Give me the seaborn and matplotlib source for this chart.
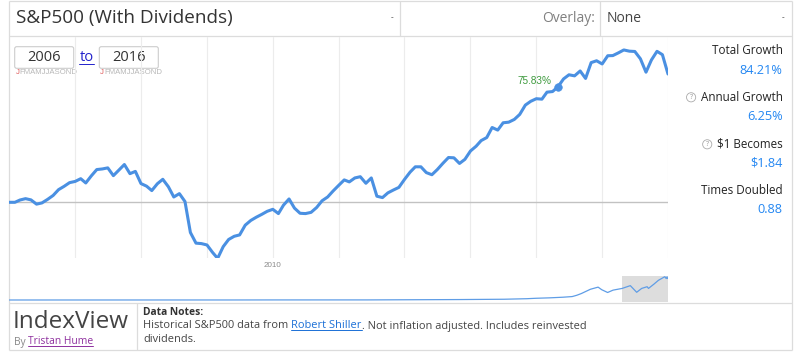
import pandas as pd
import matplotlib.pyplot as plt
import seaborn as sns
from matplotlib.patches import FancyBboxPatch

# ---- data ----
months = pd.date_range('2006-01-01', '2016-01-01', freq='MS')
growth = [
    0.0, 0.0, 1.5, 2.4, 1.6, -1.2, -0.4, 1.9, 4.5, 8.3, 10.5, 12.9,            # 2006
    13.7, 15.5, 12.7, 17.4, 21.5, 21.9, 22.6, 17.5, 21.2, 24.8, 18.8, 20.3,    # 2007
    12.3, 10.6, 7.7, 12.2, 15.1, 10.2, 3.5, 5.7, 0.5, -19.8, -26.8, -27.1,     # 2008
    -28.0, -32.9, -36.8, -29.1, -24.4, -22.3, -21.4, -15.0, -11.9, -9.8, -7.9, -5.9,  # 2009
    -4.6, -7.4, -1.9, 2.2, -3.8, -7.2, -7.4, -6.6, -3.4, 1.0, 3.5, 7.4,        # 2010
    11.1, 14.7, 13.4, 16.0, 16.8, 12.5, 16.0, 4.0, 3.1, 6.2, 8.1, 9.8,         # 2011
    15.0, 19.8, 23.3, 23.3, 19.5, 18.1, 21.5, 25.6, 29.4, 29.2, 25.5, 28.2,    # 2012
    33.7, 36.8, 40.5, 42.5, 49.1, 47.4, 52.2, 52.6, 54.4, 57.7, 63.8, 66.3,    # 2013
    68.0, 67.7, 72.3, 72.7, 75.83, 81.0, 83.7, 83.0, 86.2, 81.3, 91.7, 92.9,   # 2014
    90.8, 96.2, 96.3, 98.1, 100.0, 99.2, 99.0, 94.2, 85.4, 93.4, 99.1, 96.9,   # 2015
    84.21,                                                                     # 2016
]
hover_month = pd.Timestamp('2014-05-01')
hover_value = 75.83
hover_label = '75.83%'

# overview (full history, relative to Jan 2016)
ov_years = [1871, 1920, 1929, 1950, 1960, 1970, 1980, 1985, 1987, 1990, 1993, 1995,
            1996, 1997, 1998, 1999, 2000.7, 2001.5, 2002.8, 2004, 2006, 2007.8,
            2009.2, 2010.3, 2011.5, 2011.8, 2013, 2014, 2015.4, 2015.7, 2015.9, 2016]
ov_values = [0.0, 0.001, 0.003, 0.004, 0.012, 0.02, 0.035, 0.06, 0.08, 0.1, 0.13, 0.16,
             0.22, 0.3, 0.4, 0.5, 0.6, 0.48, 0.35, 0.46, 0.54, 0.67,
             0.36, 0.54, 0.62, 0.54, 0.74, 0.92, 1.087, 1.0, 1.08, 1.0]
sel_start, sel_end = 2006, 2016

title = 'S&P500 (With Dividends)'
overlay = 'None'
year_from, year_to = '2006', '2016'
month_letters = 'JFMAMJJASOND'
stat_labels = ['Total Growth', 'Annual Growth', '\\$1 Becomes', 'Times Doubled']
stat_values = ['84.21%', '6.25%', '\\$1.84', '0.88']
stat_help = [False, True, True, False]

LINE = '#4a90e2'
BLUE = '#2487f2'
BORDER = '#dcdcdc'

sns.set_style('white')
plt.rcParams['font.family'] = ['Open Sans', 'DejaVu Sans']

W, H = 800, 353
fig = plt.figure(figsize=(8, 3.53), dpi=100)

# background axes in pixel coordinates for the page chrome
bg = fig.add_axes([0, 0, 1, 1], zorder=0)
bg.set_xlim(0, W)
bg.set_ylim(H, 0)
bg.axis('off')


def hline(y, x0, x1, c=BORDER):
    bg.plot([x0, x1], [y, y], color=c, lw=0.9, solid_capstyle='butt')


def vline(x, y0, y1, c=BORDER):
    bg.plot([x, x], [y0, y1], color=c, lw=0.9, solid_capstyle='butt')


# frame
hline(1, 9.3, 792)
hline(36, 9.3, 792)
hline(303, 9.3, 792)
hline(350, 9.3, 792)
vline(9.3, 1, 350)
vline(792, 1, 350)
vline(400, 1, 36)
vline(600, 1, 36)
vline(137, 303, 350)

# header
bg.text(16, 18.5, title, fontsize=13.6, color='#333333', va='center')
bg.text(392, 18, '-', fontsize=6, color='#222222', ha='center', va='center')
bg.text(595, 18.5, 'Overlay:', fontsize=10, color='#808080', ha='right', va='center')
bg.text(607, 18.5, overlay, fontsize=10, color='#444444', va='center')
bg.text(783, 18, '-', fontsize=6, color='#222222', ha='center', va='center')

# main chart
ax = fig.add_axes([9.3 / W, 1 - 258.3 / H, (668 - 9.3) / W, (258.3 - 37) / H], zorder=1)
ax.patch.set_alpha(0)
for yr in range(2007, 2017):
    ax.axvline(pd.Timestamp(f'{yr}-01-01'), color='#ececec', lw=0.8, zorder=0)
ax.axhline(0, color='#c2c2c2', lw=1.0, zorder=1)
sns.lineplot(x=months, y=growth, ax=ax, color=LINE, linewidth=2.2, zorder=3)
sns.scatterplot(x=[hover_month], y=[hover_value], ax=ax, color=LINE, s=30,
                edgecolor=LINE, zorder=4)
ax.annotate(hover_label, (hover_month, hover_value), xytext=(-4.3, 4.3),
            textcoords='offset points', ha='right', va='center', fontsize=7.2,
            color='#3d9a3d', family=['Liberation Sans'])
ax.annotate('2010', (pd.Timestamp('2010-01-01'), -36.75), xytext=(0, -5),
            textcoords='offset points', ha='center', va='center', fontsize=5.8,
            color='#8a8a8a', family=['Liberation Sans'])
ax.set_xlim(months[0], months[-1])
ax.set_ylim(-36.75, 108.5)
ax.axis('off')

# year inputs
for x0, txt in [(14.7, year_from), (99.3, year_to)]:
    bg.add_patch(FancyBboxPatch((x0, 46.7), 59, 21.6,
                                boxstyle='round,pad=0,rounding_size=2',
                                fc='white', ec='#cccccc', lw=0.8, zorder=5))
    bg.text(x0 + 29.5, 57.8, txt, fontsize=10.5, color='#333333',
            ha='center', va='center', zorder=6)
    t = bg.text(x0 + 1, 72.5, month_letters[0], fontsize=5.6, color='#e06060',
                va='center', family=['Liberation Sans'], zorder=6)
    bg.annotate(month_letters[1:], xy=(1, 0), xycoords=t, va='bottom',
                fontsize=5.6, color='#b8b8b8', family=['Liberation Sans'], zorder=6)
to_txt = bg.text(86.5, 57.5, 'to', fontsize=10.5, color='#2222cc',
                 ha='center', va='center', zorder=6)

# stats panel
ys = [51, 97.3, 144.3, 190.7]
for y, lab, val, hlp in zip(ys, stat_labels, stat_values, stat_help):
    t = bg.text(782.7, y, lab, fontsize=8.4, color='#222222', ha='right', va='center')
    bg.text(782.7, y + 19, val, fontsize=9.2, color=BLUE, ha='right', va='center')
    if hlp:
        bg.annotate('?', xy=(0, 0.5), xycoords=t, xytext=(-7, 0),
                    textcoords='offset points', ha='center', va='center',
                    fontsize=5.2, color='#999999',
                    bbox=dict(boxstyle='circle,pad=0.15', fc='white', ec='#aaaaaa', lw=0.6))

# overview strip
ov = fig.add_axes([9.3 / W, 1 - 301.5 / H, (668 - 9.3) / W, 26 / H], zorder=1)
ov.patch.set_alpha(0)
ov.axvspan(sel_start, sel_end, color='#dddddd', lw=0, zorder=0)
sns.lineplot(x=ov_years, y=ov_values, ax=ov, color='#5f9de6', linewidth=0.9, zorder=2)
ov.set_xlim(1871, 2016.1)
ov.set_ylim(-0.0704, 1.143)
ov.axis('off')

# footer
bg.text(13, 321.5, 'IndexView', fontsize=17.5, color='#444444', va='center')
by = bg.text(14, 342, 'By ', fontsize=7.4, color='#888888', va='center')
author = bg.annotate('Tristan Hume', xy=(1, 0), xycoords=by, va='bottom',
                     fontsize=7.4, color='#8e2f9e')
bg.text(143, 312.5, 'Data Notes:', fontsize=7.4, color='#333333',
        fontweight='bold', va='center')
n1 = bg.text(143, 326, 'Historical S&P500 data from ', fontsize=7.9, color='#444444',
             va='center')
link = bg.annotate('Robert Shiller', xy=(1, 0), xycoords=n1, va='bottom',
                   fontsize=7.9, color='#1a6fd6')
bg.annotate('. Not inflation adjusted. Includes reinvested', xy=(1, 0), xycoords=link,
            va='bottom', fontsize=7.9, color='#444444')
bg.text(143, 340, 'dividends.', fontsize=7.9, color='#444444', va='center')

# underlines for links
fig.canvas.draw()
r = fig.canvas.get_renderer()
inv = bg.transData.inverted()
for art, col in [(to_txt, '#2222cc'), (author, '#8e2f9e'), (link, '#1a6fd6')]:
    bb = art.get_window_extent(r)
    (x0, y0), (x1, y1) = inv.transform([(bb.x0, bb.y0), (bb.x1, bb.y1)])
    bg.plot([x0, x1], [y0 - 1.5, y0 - 1.5], color=col, lw=0.7)

plt.savefig('out.png', dpi=100)
